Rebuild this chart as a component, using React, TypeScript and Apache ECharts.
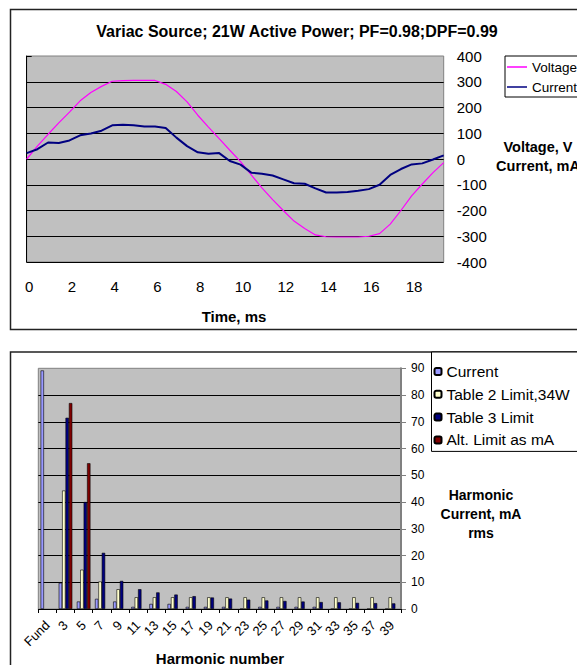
import React, { useEffect, useRef } from 'react';
import * as echarts from 'echarts';

// ---- Top chart: waveform (time in ms) ----
const timeMs = [0, 0.5, 1, 1.5, 2, 2.5, 3, 3.5, 4, 4.5, 5, 5.5, 6, 6.5, 7, 7.5, 8, 8.5, 9, 9.5,
  10, 10.5, 11, 11.5, 12, 12.5, 13, 13.5, 14, 14.5, 15, 15.5, 16, 16.5, 17, 17.5, 18, 18.5, 19, 19.5];
const voltageV = [0, 50, 96, 140, 182, 226, 258, 282, 302, 304, 305, 305, 305, 290, 262, 222, 170, 124, 79, 34,
  -10, -62, -112, -158, -200, -241, -270, -295, -302, -303, -303, -303, -300, -290, -253, -200, -143, -97, -53, -14];
const currentMa = [23, 38, 64, 62, 72, 92, 99, 110, 131, 133, 131, 126, 126, 120, 83, 50, 26, 20, 23, -8,
  -22, -53, -57, -64, -79, -94, -96, -114, -130, -130, -128, -123, -117, -100, -62, -39, -21, -17, -2, 14];

// ---- Bottom chart: harmonics ----
const harmonicLabels = ['Fund', '3', '5', '7', '9', '11', '13', '15', '17', '19', '21', '23', '25', '27', '29', '31', '33', '35', '37', '39'];
const measuredCurrent = [89.2, 9.8, 2.8, 3.8, 2.8, 0.8, 1.9, 1.9, 0.8, 0.8, 0.8, 0, 0.8, 0.8, 0.8, 0.8, 0, 0, 0, 0];
const table2Limit = [null, 44.3, 14.7, 10.3, 7.4, 4.4, 4.4, 4.4, 4.4, 4.4, 4.4, 4.4, 4.4, 4.4, 4.4, 4.4, 4.4, 4.4, 4.4, 4.4];
const table3Limit = [null, 71.5, 40, 21, 10.5, 7.4, 6.2, 5.4, 4.8, 4.3, 3.9, 3.5, 3.2, 3.0, 2.8, 2.6, 2.5, 2.3, 2.2, 2.1];
const altLimit = [null, 77, 54.5, null, null, null, null, null, null, null, null, null, null, null, null, null, null, null, null, null];

const FONT = "'Liberation Sans', Arial, sans-serif";

function txt(x: number, y: number, text: string, size: number, lh?: number) {
  return {
    type: 'text',
    x,
    y,
    style: {
      text,
      fill: '#000',
      font: `bold ${size}px ${FONT}`,
      align: 'center',
      verticalAlign: 'middle',
      textAlign: 'center',
      textVerticalAlign: 'middle',
      lineHeight: lh || size + 3,
    },
  };
}

export default function App() {
  const ref = useRef<HTMLDivElement>(null);
  useEffect(() => {
    const chart = echarts.init(ref.current!, null, { renderer: 'svg' });
    chart.setOption({
      animation: false,
      backgroundColor: '#fff',
      textStyle: { fontFamily: FONT },
      grid: [
        { left: 26.7, top: 56, width: 417, height: 206, show: true, backgroundColor: '#C0C0C0', borderColor: '#808080', borderWidth: 1 },
        { left: 38.3, top: 368.3, width: 362.7, height: 240.7, show: true, backgroundColor: '#C0C0C0', borderColor: '#808080', borderWidth: 1 },
      ],
      xAxis: [
        {
          type: 'value', gridIndex: 0, min: 0, max: 19.5, interval: 2,
          axisLine: { show: false }, axisTick: { show: false }, splitLine: { show: false },
          axisLabel: { fontSize: 15, color: '#000', margin: 17, padding: [0, 0, 0, 5], fontFamily: FONT, showMaxLabel: false },
        },
        {
          type: 'category', gridIndex: 1, data: harmonicLabels, boundaryGap: true,
          axisLine: { show: true, lineStyle: { color: '#000', width: 1 } },
          axisTick: { show: true, length: 4, interval: 0, lineStyle: { color: '#000' } },
          axisLabel: { interval: 0, rotate: 45, fontSize: 13, color: '#000', margin: 14, fontFamily: FONT },
          splitLine: { show: false },
        },
      ],
      yAxis: [
        {
          type: 'value', gridIndex: 0, position: 'right', min: -400, max: 400, interval: 100,
          axisLine: { show: true, lineStyle: { color: '#000', width: 1 } },
          axisTick: { show: true, length: 5, lineStyle: { color: '#000' } },
          axisLabel: { fontSize: 15, color: '#000', margin: 13, fontFamily: FONT },
          splitLine: { show: true, showMaxLine: false, lineStyle: { color: '#000', width: 1 } },
        },
        {
          type: 'value', gridIndex: 1, position: 'right', min: 0, max: 90, interval: 10,
          axisLine: { show: true, lineStyle: { color: '#808080', width: 2 } },
          axisTick: { show: true, length: 5, lineStyle: { color: '#808080' } },
          axisLabel: { fontSize: 12, color: '#000', margin: 10, fontFamily: FONT },
          splitLine: { show: true, showMaxLine: false, lineStyle: { color: '#000', width: 1 } },
        },
      ],
      legend: [
        {
          data: [{ name: 'Voltage', icon: 'rect' }, { name: 'Current', icon: 'rect' }],
          orient: 'vertical', left: 505, top: 56,
          itemWidth: 20, itemHeight: 1.5, itemGap: 4,
          padding: [3, 40, 2, 2],
          borderColor: '#000', borderWidth: 1, backgroundColor: '#fff',
          textStyle: { fontSize: 13.5, lineHeight: 16, color: '#000', fontFamily: FONT },
        },
        {
          data: ['Harmonic current', 'Table 2 Limit,34W', 'Table 3 Limit', 'Alt. Limit as mA'],
          formatter: (n: string) => (n === 'Harmonic current' ? 'Current' : n),
          orient: 'vertical', left: 431.5, top: 352,
          itemWidth: 7, itemHeight: 7, itemGap: 5.8,
          padding: [11, 40, 3, 2],
          borderColor: '#000', borderWidth: 1, backgroundColor: '#fff',
          textStyle: { fontSize: 15.5, lineHeight: 17, color: '#000', fontFamily: FONT },
        },
      ],
      series: [
        {
          type: 'line', name: 'Voltage', xAxisIndex: 0, yAxisIndex: 0,
          data: timeMs.map((t, i) => [t, voltageV[i]]),
          symbol: 'none', showSymbol: false,
          lineStyle: { color: '#FF00FF', width: 1.2 }, itemStyle: { color: '#FF00FF' },
        },
        {
          type: 'line', name: 'Current', xAxisIndex: 0, yAxisIndex: 0,
          data: timeMs.map((t, i) => [t, currentMa[i]]),
          symbol: 'none', showSymbol: false,
          lineStyle: { color: '#000080', width: 2 }, itemStyle: { color: '#000080' },
        },
        {
          type: 'bar', name: 'Harmonic current', xAxisIndex: 1, yAxisIndex: 1, data: measuredCurrent,
          barWidth: 3.4, barGap: '0%',
          itemStyle: { color: '#9999FF', borderColor: '#000', borderWidth: 0.6 },
        },
        {
          type: 'bar', name: 'Table 2 Limit,34W', xAxisIndex: 1, yAxisIndex: 1, data: table2Limit,
          barWidth: 3.4, barGap: '0%',
          itemStyle: { color: '#FFFFCC', borderColor: '#000', borderWidth: 0.6 },
        },
        {
          type: 'bar', name: 'Table 3 Limit', xAxisIndex: 1, yAxisIndex: 1, data: table3Limit,
          barWidth: 3.4, barGap: '0%',
          itemStyle: { color: '#000080', borderColor: '#000', borderWidth: 0.6 },
        },
        {
          type: 'bar', name: 'Alt. Limit as mA', xAxisIndex: 1, yAxisIndex: 1, data: altLimit,
          barWidth: 3.4, barGap: '0%',
          itemStyle: { color: '#800000', borderColor: '#000', borderWidth: 0.6 },
        },
      ],
      graphic: [
        { type: 'rect', shape: { x: 10.5, y: 9.5, width: 620, height: 320 }, style: { fill: 'none', stroke: '#222', lineWidth: 1.5 }, silent: true },
        { type: 'rect', shape: { x: 10.5, y: 352, width: 620, height: 400 }, style: { fill: 'none', stroke: '#222', lineWidth: 1.5 }, silent: true },
        txt(297, 31, 'Variac Source; 21W Active Power; PF=0.98;DPF=0.99', 16),
        txt(538, 156, 'Voltage, V\nCurrent, mA', 14.5, 19),
        txt(234, 316, 'Time, ms', 15),
        txt(481, 514, 'Harmonic\nCurrent, mA\nrms', 14, 19),
        txt(220, 658, 'Harmonic number', 15),
      ],
    });
    return () => chart.dispose();
  }, []);
  return <div ref={ref} style={{ position: 'absolute', left: 0, top: 0, width: 577, height: 665 }} />;
}
